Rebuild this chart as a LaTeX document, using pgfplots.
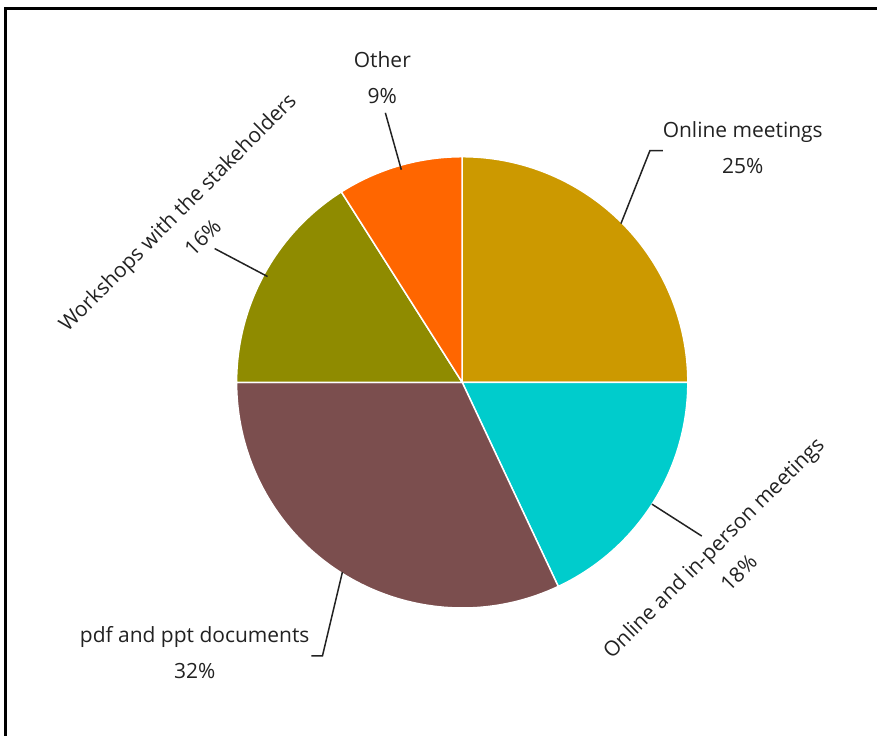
\documentclass[border=0pt]{standalone}
\usepackage{pgfplots}
\usepackage{pgfplotstable}
\pgfplotsset{compat=1.18}
\usepackage{fontspec}
\setmainfont{Open Sans}
\definecolor{slice0}{RGB}{204,153,0}
\definecolor{slice1}{RGB}{0,204,204}
\definecolor{slice2}{RGB}{123,78,78}
\definecolor{slice3}{RGB}{143,139,0}
\definecolor{slice4}{RGB}{255,102,0}
\definecolor{txt}{RGB}{34,34,34}
\pgfplotstableread[col sep=comma]{
label,value
Online meetings,25
Online and in-person meetings,18
pdf and ppt documents,32
Workshops with the stakeholders,16
Other,9
}\piedata
\begin{document}
\begin{tikzpicture}
\begin{axis}[
  scale only axis, width=878bp, height=737bp,
  xmin=0, xmax=878, ymin=0, ymax=737,
  hide axis, clip=false,
]
\addplot[draw=none] coordinates {(0,0) (878,737)};
\pgfplotsextra{
  \xdef\cum{90}
  \pgfplotstableforeachcolumnelement{value}\of\piedata\as\v{%
    \pgfmathsetmacro\endang{\cum-3.6*\v}%
    \fill[slice\pgfplotstablerow, draw=white, line width=1.5bp, line join=round]
      (axis cs:463,354) -- ++(\cum:226bp) arc[start angle=\cum, end angle=\endang, radius=226bp] -- cycle;
    \xdef\cum{\endang}%
  }
}
% frame
\draw[line width=3bp, black] (axis cs:6,0) -- (axis cs:6,728) -- (axis cs:878,728);
% leader lines
\draw[line width=1.5bp, txt] (axis cs:622,513) -- (axis cs:651,586) -- (axis cs:664,586);
\draw[line width=1.5bp, txt] (axis cs:402,567) -- (axis cs:386,624);
\draw[line width=1.5bp, txt] (axis cs:268,460) -- (axis cs:215,488);
\draw[line width=1.5bp, txt] (axis cs:653,232) -- (axis cs:703,200);
\draw[line width=1.5bp, txt] (axis cs:343,164) -- (axis cs:323,80) -- (axis cs:312,80);
% labels
\tikzset{lab/.style={align=center, text=txt, font=\fontsize{21bp}{36bp}\selectfont}}
\node[lab] at (axis cs:744,589.5) {Online meetings\\25\%};
\node[lab] at (axis cs:383,659) {Other\\9\%};
\node[lab] at (axis cs:195,83) {pdf and ppt documents\\32\%};
\node[lab, rotate=45] at (axis cs:190,512) {Workshops with the stakeholders\\16\%};
\node[lab, rotate=45] at (axis cs:727,176) {Online and in-person meetings\\18\%};
\end{axis}
\end{tikzpicture}
\end{document}
